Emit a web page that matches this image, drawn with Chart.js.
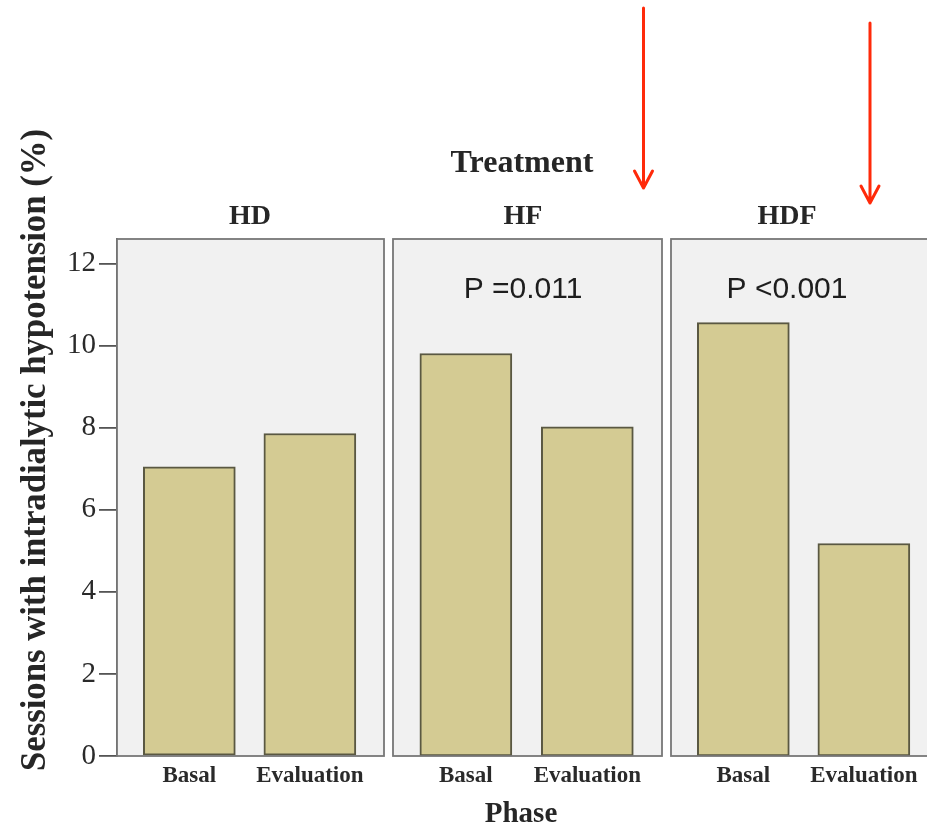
<!DOCTYPE html>
<html>
<head>
<meta charset="utf-8">
<script src="https://cdn.jsdelivr.net/npm/chart.js@4.4.1/dist/chart.umd.min.js"></script>
<style>
  html, body { margin: 0; padding: 0; background: #fff; overflow: hidden; }
  #wrap { position: relative; width: 927px; height: 829px; overflow: hidden; }
  #wrap canvas { position: absolute; left: 0; top: 0; }
</style>
</head>
<body>
<div id="wrap">
  <canvas id="c0" width="940" height="829"></canvas>
  <canvas id="c1" width="940" height="829"></canvas>
  <canvas id="c2" width="940" height="829"></canvas>
</div>
<script>
// ---- data ----
const treatments = ['HD', 'HF', 'HDF'];
const phases = ['Basal', 'Evaluation'];
const basal = [7.05, 9.81, 10.56];
const evaluation = [7.86, 8.02, 5.18];
const pLabels = ['', 'P =0.011', 'P <0.001'];
const yTicks = [0, 2, 4, 6, 8, 10, 12];
const yTitle = 'Sessions with intradialytic hypotension (%)';
const groupTitle = 'Treatment';
const xTitle = 'Phase';

// ---- layout / style ----
const CANVAS_W = 940;
const panelLeft = [117, 393, 671];
const panelRight = [384, 662, 938];
const labelCenter = [133, 130, 116]; // offset from panel left
const serif = '"Liberation Serif", "DejaVu Serif", serif';
const sans = '"Liberation Sans", Arial, sans-serif';
const textColor = '#262626';

const panelPlugin = {
  id: 'panelDecor',
  beforeDatasetsDraw(chart, args, opts) {
    const a = chart.chartArea, ctx = chart.ctx;
    ctx.save();
    ctx.fillStyle = '#f1f1f1';
    ctx.fillRect(a.left, a.top, a.right - a.left, a.bottom - a.top);
    ctx.restore();
  },
  afterDatasetsDraw(chart, args, opts) {
    const a = chart.chartArea, ctx = chart.ctx;
    ctx.save();
    ctx.strokeStyle = '#777777';
    ctx.lineWidth = 1.8;
    ctx.strokeRect(a.left, a.top, a.right - a.left, a.bottom - a.top);
    const cx = a.left + opts.center;
    ctx.fillStyle = textColor;
    ctx.textAlign = 'center';
    ctx.textBaseline = 'middle';
    ctx.font = 'bold 28px ' + serif;
    ctx.fillText(opts.title, cx, 217);
    if (opts.pText) {
      ctx.font = '30px ' + sans;
      ctx.fillStyle = '#1e1e1e';
      ctx.fillText(opts.pText, cx, 290);
    }
    if (opts.globalText) {
      ctx.fillStyle = textColor;
      ctx.font = 'bold 32px ' + serif;
      ctx.fillText(groupTitle, 522, 164);
      ctx.font = 'bold 29px ' + serif;
      ctx.fillText(xTitle, 521, 815);
      ctx.save();
      ctx.translate(36, 450);
      ctx.rotate(-Math.PI / 2);
      ctx.font = 'bold 35px ' + serif;
      const w = ctx.measureText(yTitle).width;
      ctx.scale(642 / w, 1);
      ctx.fillText(yTitle, 0, 0);
      ctx.restore();
    }
    if (opts.arrows) {
      ctx.strokeStyle = '#ff2a0a';
      ctx.lineWidth = 3;
      ctx.lineCap = 'round';
      ctx.lineJoin = 'round';
      [[643.5, 8, 188], [870, 23, 203]].forEach(([x, y0, y1]) => {
        ctx.beginPath();
        ctx.moveTo(x, y0); ctx.lineTo(x, y1);
        ctx.moveTo(x - 9, y1 - 17); ctx.lineTo(x, y1); ctx.lineTo(x + 9, y1 - 17);
        ctx.stroke();
      });
    }
    ctx.restore();
  }
};

function makeChart(i) {
  const first = i === 0;
  const cfg = {
    type: 'bar',
    data: {
      datasets: [{
        data: [{ x: 0, y: basal[i] }, { x: 1, y: evaluation[i] }],
        backgroundColor: '#d4cb93',
        borderColor: '#5a5842',
        borderWidth: 2,
        borderSkipped: false,
        barThickness: 92
      }]
    },
    options: {
      responsive: false,
      animation: false,
      layout: {
        padding: {
          top: 239,
          left: first ? 0 : panelLeft[i],
          right: CANVAS_W - panelRight[i],
          bottom: 0
        }
      },
      plugins: {
        legend: { display: false },
        tooltip: { enabled: false },
        title: { display: false },
        panelDecor: {
          title: treatments[i],
          center: labelCenter[i],
          pText: pLabels[i],
          globalText: first,
          arrows: i === 2
        }
      },
      scales: {
        x: {
          type: 'linear',
          min: -0.6,
          max: 1.615,
          offset: false,
          grid: { display: false, drawTicks: false },
          border: { display: false },
          ticks: {
            stepSize: 1,
            includeBounds: false,
            autoSkip: false,
            maxRotation: 0,
            padding: 6,
            color: '#2a2a2a',
            font: { family: serif, size: 23, weight: 'bold' },
            callback: (v) => (Number.isInteger(v) && phases[v] !== undefined) ? phases[v] : ''
          },
          afterFit: (s) => { s.height = 73; }
        },
        y: {
          display: first,
          min: 0,
          max: 12.6,
          afterBuildTicks: (s) => { s.ticks = yTicks.map(v => ({ value: v })); },
          grid: { drawOnChartArea: false, drawTicks: true, tickLength: 18, color: '#555', lineWidth: 1.8 },
          border: { display: true, color: '#555', width: 1.8 },
          ticks: {
            padding: 3,
            color: '#2a2a2a',
            font: { family: serif, size: 29 }
          },
          afterFit: (s) => { s.width = first ? 117 : 0; }
        }
      }
    },
    plugins: [panelPlugin]
  };
  return new Chart(document.getElementById('c' + i), cfg);
}

[0, 1, 2].forEach(makeChart);
</script>
</body>
</html>
